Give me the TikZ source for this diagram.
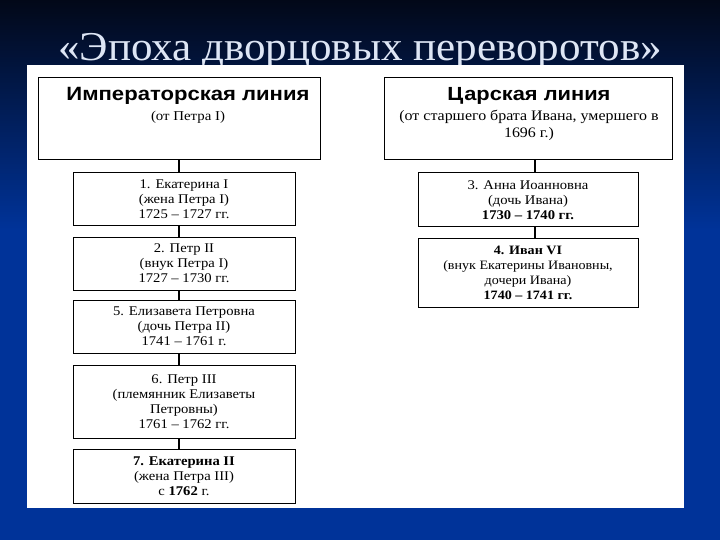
\documentclass[tikz,border=0pt]{standalone}
\usepackage{fontspec}
\setmainfont{Liberation Serif}
\newfontfamily\hdfont[FakeStretch=1.15]{Liberation Sans}
\newfontfamily\bxfont[FakeStretch=1.1]{Liberation Serif}
\newfontfamily\ttlfont[FakeStretch=1.05]{Liberation Serif}
\definecolor{bgtop}{RGB}{2,8,24}
\definecolor{bgbot}{RGB}{0,51,153}
\definecolor{titlecol}{RGB}{222,230,245}
\newcommand{\hdline}[2]{{\hdfont\bfseries\fontsize{#1}{22}\selectfont #2}}
\begin{document}
\begin{tikzpicture}[x=1pt,y=-1pt,
  box/.style={draw=black, line width=1pt, fill=white, inner sep=0pt, align=center,
    font=\bxfont\fontsize{13.3}{15}\selectfont},
  hdbox/.style={draw=black, line width=1pt, fill=white, inner sep=0pt},
  hdtext/.style={anchor=north, align=center, inner sep=0pt, font=\bxfont\fontsize{13.5}{17}\selectfont},
  link/.style={draw=black, line width=1.5pt}]
\useasboundingbox (0,0) rectangle (720,540);
\shade[top color=bgtop, bottom color=bgbot] (0,0) rectangle (720,230);
\fill[bgbot] (0,229) rectangle (720,540);
\node[anchor=base, text=titlecol, font=\ttlfont\fontsize{41}{44}\selectfont] (title) at (360,61) {«Эпоха дворцовых переворотов»};
\fill[white] (27,65) rectangle (684,508);
% headers
\node[hdbox, minimum width=282pt, minimum height=82pt] (hdL) at (179,119) {};
\node[hdtext] (hdLt) at ([xshift=9pt,yshift=-10pt]hdL.north) {\hdline{19.2}{Императорская линия}\\[3pt] (от Петра I)};
\node[hdbox, minimum width=288pt, minimum height=82pt] (hdR) at (528,119) {};
\node[hdtext, font=\bxfont\fontsize{14.5}{17}\selectfont] (hdRt) at ([xshift=1pt,yshift=-10pt]hdR.north) {\hdline{19}{Царская линия}\\[3pt] (от старшего брата Ивана, умершего в\\1696 г.)};
% left column
\node[box, minimum width=222pt, minimum height=53pt] (l1) at (184,199.5) {1. Екатерина I\\(жена Петра I)\\1725 – 1727 гг.};
\node[box, minimum width=222pt, minimum height=53pt] (l2) at (184,263.5) {2. Петр II\\(внук Петра I)\\1727 – 1730 гг.};
\node[box, minimum width=222pt, minimum height=53pt] (l3) at (184,326.5) {5. Елизавета Петровна\\(дочь Петра II)\\1741 – 1761 г.};
\node[box, minimum width=222pt, minimum height=73pt] (l4) at (184,401.5) {6. Петр III\\(племянник Елизаветы\\Петровны)\\1761 – 1762 гг.};
\node[box, minimum width=222pt, minimum height=54pt] (l5) at (184,476) {\textbf{7. Екатерина II}\\(жена Петра III)\\с \textbf{1762} г.};
% right column
\node[box, minimum width=220pt, minimum height=54pt] (r3) at (528,200) {3. Анна Иоанновна\\(дочь Ивана)\\\textbf{1730 – 1740 гг.}};
\node[box, minimum width=220pt, minimum height=69pt, font=\bxfont\fontsize{12.8}{15}\selectfont] (r4) at (528,272.5) {\textbf{4. Иван VI}\\(внук Екатерины Ивановны,\\дочери Ивана)\\\textbf{1740 – 1741 гг.}};
% connectors
\draw[link] (hdL.south) -- (hdL.south |- l1.north);
\draw[link] (hdL.south |- l1.south) -- (hdL.south |- l2.north);
\draw[link] (hdL.south |- l2.south) -- (hdL.south |- l3.north);
\draw[link] (hdL.south |- l3.south) -- (hdL.south |- l4.north);
\draw[link] (hdL.south |- l4.south) -- (hdL.south |- l5.north);
\coordinate (rx) at ([xshift=7pt]hdR.south);
\draw[link] (rx) -- (rx |- r3.north);
\draw[link] (rx |- r3.south) -- (rx |- r4.north);
\end{tikzpicture}
\end{document}
